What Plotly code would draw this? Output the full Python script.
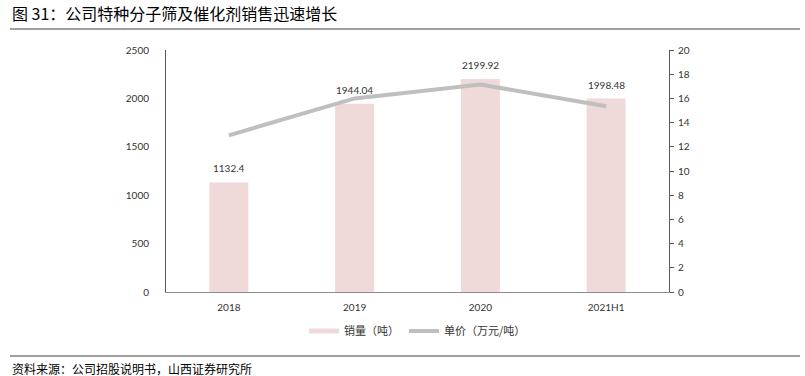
import plotly.graph_objects as go

categories = ["2018", "2019", "2020", "2021H1"]
sales = [1132.4, 1944.04, 2199.92, 1998.48]
price = [12.95, 16.0, 17.15, 15.35]
sales_labels = ["1132.4", "1944.04", "2199.92", "1998.48"]

PW, PH = 503, 242  # plot area size in px
BAR_COLOR = "#f0d9d9"
LINE_COLOR = "#bfbfbf"

fig = go.Figure()
fig.add_trace(go.Bar(
    x=categories, y=sales, name="销量（吨）", showlegend=False,
    marker=dict(color=BAR_COLOR, line=dict(width=0)),
    width=0.31,
))
# legend-only entry so the swatch looks like a flat bar (as in the reference)
fig.add_trace(go.Scatter(
    x=[categories[0]], y=[None], name="销量（吨）", mode="lines",
    line=dict(color=BAR_COLOR, width=5),
))
fig.add_trace(go.Scatter(
    x=categories, y=price, name="单价（万元/吨）", yaxis="y2",
    mode="lines", line=dict(color=LINE_COLOR, width=4),
))

# bar value labels (category axis: position by category index)
for i, (v, lab) in enumerate(zip(sales, sales_labels)):
    fig.add_annotation(x=i, y=v, xref="x", yref="y", text=lab, showarrow=False,
                       yanchor="middle", yshift=14,
                       font=dict(size=10, color="#333333", family="Lato, Open Sans, sans-serif"))

fig.update_layout(
    width=805, height=376,
    margin=dict(l=166, r=136, t=50, b=84, autoexpand=False),
    paper_bgcolor="white", plot_bgcolor="white",
    font=dict(family="Lato, Open Sans, sans-serif", size=10, color="#333333"),
    showlegend=True,
    legend=dict(orientation="h", x=0.5, xanchor="center", y=-39/PH, yanchor="middle",
                font=dict(size=11, family="Noto Sans CJK SC", color="#333333"),
                traceorder="normal"),
    xaxis=dict(type="category", categoryorder="array", categoryarray=categories,
               range=[-0.5, len(categories) - 0.5],
               showgrid=False, showline=True, linecolor="#8c8c8c", linewidth=1,
               ticks="", tickfont=dict(size=10), ticklabelstandoff=6),
    yaxis=dict(range=[0, 2500], dtick=500, showgrid=False, showline=True,
               linecolor="#595959", linewidth=1, ticks="", zeroline=False,
               tickfont=dict(size=10), ticklabelstandoff=14),
    yaxis2=dict(range=[0, 20], dtick=2, overlaying="y", side="right",
                showgrid=False, showline=True, linecolor="#595959", linewidth=1,
                ticks="outside", ticklen=4, tickcolor="#595959", zeroline=False,
                tickfont=dict(size=10), ticklabelstandoff=2),
)

fig.add_annotation(text="图 31：公司特种分子筛及催化剂销售迅速增长", xref="paper", yref="paper",
                   x=-156/PW, y=1 + 37/PH, xanchor="left", yanchor="middle",
                   showarrow=False, font=dict(size=16, family="Noto Sans CJK SC", color="#000000"))
fig.add_annotation(text="资料来源：公司招股说明书，山西证券研究所", xref="paper", yref="paper",
                   x=-156/PW, y=-76/PH, xanchor="left", yanchor="middle",
                   showarrow=False, font=dict(size=12, family="Noto Sans CJK SC", color="#000000"))

fig.add_shape(type="line", xref="paper", yref="paper", x0=-156/PW, x1=1 + 131/PW,
              y0=1 + 21/PH, y1=1 + 21/PH, line=dict(color="#7f7f7f", width=1.5))
fig.add_shape(type="line", xref="paper", yref="paper", x0=-156/PW, x1=1 + 131/PW,
              y0=-64/PH, y1=-64/PH, line=dict(color="#7f7f7f", width=1.5))

fig.write_html("out.html", config={"displayModeBar": False},
               post_script="document.body.style.margin='0';document.body.style.overflow='hidden';")
